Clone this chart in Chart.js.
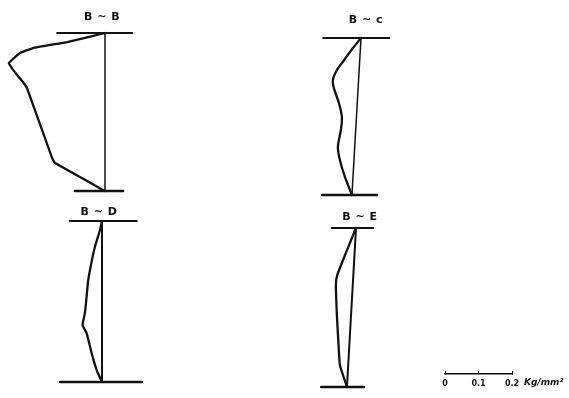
<!DOCTYPE html>
<html>
<head>
<meta charset="utf-8">
<script src="https://cdn.jsdelivr.net/npm/chart.js@4"></script>
<style>
  body { margin: 0; background: #fff; }
  #wrap { position: relative; width: 569px; height: 398px; overflow: hidden; }
  canvas { position: absolute; }
  .title, .unit {
    position: absolute;
    font-family: "DejaVu Sans", sans-serif;
    font-weight: bold;
    color: #111;
    white-space: nowrap;
    transform: translate(-50%, -50%);
  }
  .title { font-size: 11px; letter-spacing: 0.5px; }
  .unit { font-size: 9px; font-style: italic; transform: none; }
</style>
</head>
<body>
<div id="wrap">
  <canvas id="stressChart" width="569" height="398" style="left:0;top:0"></canvas>
  <canvas id="scaleChart" width="99" height="36" style="left:430px;top:354px"></canvas>
  <span class="unit" style="left:524px;top:377px">Kg/mm²</span>
</div>
<script>
const depthBB  = [0, 0.057, 0.095, 0.127, 0.171, 0.190, 0.222, 0.272, 0.310, 0.348, 0.791, 0.823, 1];
const stressBB = [0, 0.113, 0.215, 0.254, 0.278, 0.287, 0.278, 0.260, 0.245, 0.233, 0.158, 0.149, 0];

const depthBC  = [0, 0.064, 0.151, 0.204, 0.268, 0.318, 0.414, 0.503, 0.586, 0.694, 0.777, 0.885, 1];
const stressBC = [0, 0.024, 0.054, 0.072, 0.084, 0.081, 0.066, 0.057, 0.060, 0.069, 0.063, 0.048, 0.027];

const depthBD  = [0, 0.056, 0.160, 0.253, 0.366, 0.470, 0.571, 0.646, 0.665, 0.696, 0.820, 0.925, 1];
const stressBD = [0, 0.006, 0.021, 0.031, 0.041, 0.046, 0.051, 0.058, 0.054, 0.046, 0.031, 0.016, 0];

const depthBE  = [0, 0.296, 0.358, 0.550, 0.740, 0.862, 0.943, 1];
const stressBE = [0, 0.056, 0.060, 0.057, 0.052, 0.048, 0.036, 0.027];

// reference line: stress at top and bottom
const refBB = [0, 0];
const refBC = [0, 0.027];
const refBD = [0, 0];
const refBE = [0, 0.027];

// extent of the top and bottom section lines, in stress units
const capTopBB = [0.143, -0.081], capBotBB = [0.090, -0.054];
const capTopBC = [0.113, -0.084], capBotBC = [0.116, -0.048];
const capTopBD = [0.096, -0.104], capBotBD = [0.125, -0.119];
const capTopBE = [0.072, -0.051], capBotBE = [0.104, -0.024];

const scaleTicks = [0, 0.1, 0.2];
const scaleLabels = ['0', '0.1', '0.2'];

const PX_PER_UNIT = 335; // 0.1 kg/mm² = 33.5 px
const W = 569, H = 398;

const panels = [
  { key: 'BB', title: 'B ~ B', x: 105, top: 33, bottom: 191, tx: 102, ty: 16, tension: 0.08,
    depth: depthBB, stress: stressBB, ref: refBB, capTop: capTopBB, capBot: capBotBB, refWidth: 1.5 },
  { key: 'BC', title: 'B ~ c', x: 361, top: 38, bottom: 195, tx: 366, ty: 19, tension: 0.3,
    depth: depthBC, stress: stressBC, ref: refBC, capTop: capTopBC, capBot: capBotBC, refWidth: 1.5 },
  { key: 'BD', title: 'B ~ D', x: 102, top: 221, bottom: 382, tx: 99, ty: 211, tension: 0.3,
    depth: depthBD, stress: stressBD, ref: refBD, capTop: capTopBD, capBot: capBotBD, refWidth: 2 },
  { key: 'BE', title: 'B ~ E', x: 356, top: 228, bottom: 387, tx: 360, ty: 216, tension: 0.2,
    depth: depthBE, stress: stressBE, ref: refBE, capTop: capTopBE, capBot: capBotBE, refWidth: 2 }
];

const ink = '#111';
let datasets = [];
let scales = {};

panels.forEach(p => {
  let h = p.bottom - p.top;
  let xMax = p.x / PX_PER_UNIT;
  let yMin = -p.top / h;
  scales['x' + p.key] = { type: 'linear', display: false, reverse: true, min: xMax - W / PX_PER_UNIT, max: xMax };
  scales['y' + p.key] = { type: 'linear', display: false, reverse: true, min: yMin, max: yMin + H / h };

  let line = (data, width, tension) => ({
    data: data,
    xAxisID: 'x' + p.key,
    yAxisID: 'y' + p.key,
    showLine: true,
    borderColor: ink,
    borderWidth: width,
    borderCapStyle: 'round',
    borderJoinStyle: 'round',
    pointRadius: 0,
    tension: tension,
    clip: false
  });

  datasets.push(line(p.depth.map((d, i) => ({ x: p.stress[i], y: d })), 2.3, p.tension));
  datasets.push(line([{ x: p.ref[0], y: 0 }, { x: p.ref[1], y: 1 }], p.refWidth, 0));
  datasets.push(line([{ x: p.capTop[0], y: 0 }, { x: p.capTop[1], y: 0 }], 2, 0));
  datasets.push(line([{ x: p.capBot[0], y: 1 }, { x: p.capBot[1], y: 1 }], 2.5, 0));

  let t = document.createElement('span');
  t.className = 'title';
  t.style.left = p.tx + 'px';
  t.style.top = p.ty + 'px';
  t.textContent = p.title;
  document.getElementById('wrap').appendChild(t);
});

new Chart(document.getElementById('stressChart'), {
  type: 'scatter',
  data: { datasets: datasets },
  options: {
    responsive: false,
    animation: false,
    layout: { padding: 0 },
    scales: scales,
    plugins: { legend: { display: false }, tooltip: { enabled: false } }
  }
});

// length scale: 0 - 0.2 kg/mm², short tick marks pointing up from the bar
new Chart(document.getElementById('scaleChart'), {
  type: 'scatter',
  data: { datasets: [] },
  options: {
    responsive: false,
    animation: false,
    layout: { padding: { left: 15, right: 17, top: 4, bottom: 0 } },
    scales: {
      x: {
        type: 'linear',
        min: 0,
        max: 0.2,
        afterBuildTicks: axis => { axis.ticks = scaleTicks.map(v => ({ value: v })); },
        ticks: {
          padding: 8,
          color: ink,
          font: { family: 'DejaVu Sans', size: 8, weight: 'bold' },
          callback: (v, i) => scaleLabels[i]
        },
        grid: { drawTicks: true, tickLength: -3, drawOnChartArea: false, color: ink, lineWidth: 1 },
        border: { display: true, color: ink, width: 1.5 }
      },
      y: { display: false, min: 0, max: 1 }
    },
    plugins: { legend: { display: false }, tooltip: { enabled: false } }
  }
});
</script>
</body>
</html>
